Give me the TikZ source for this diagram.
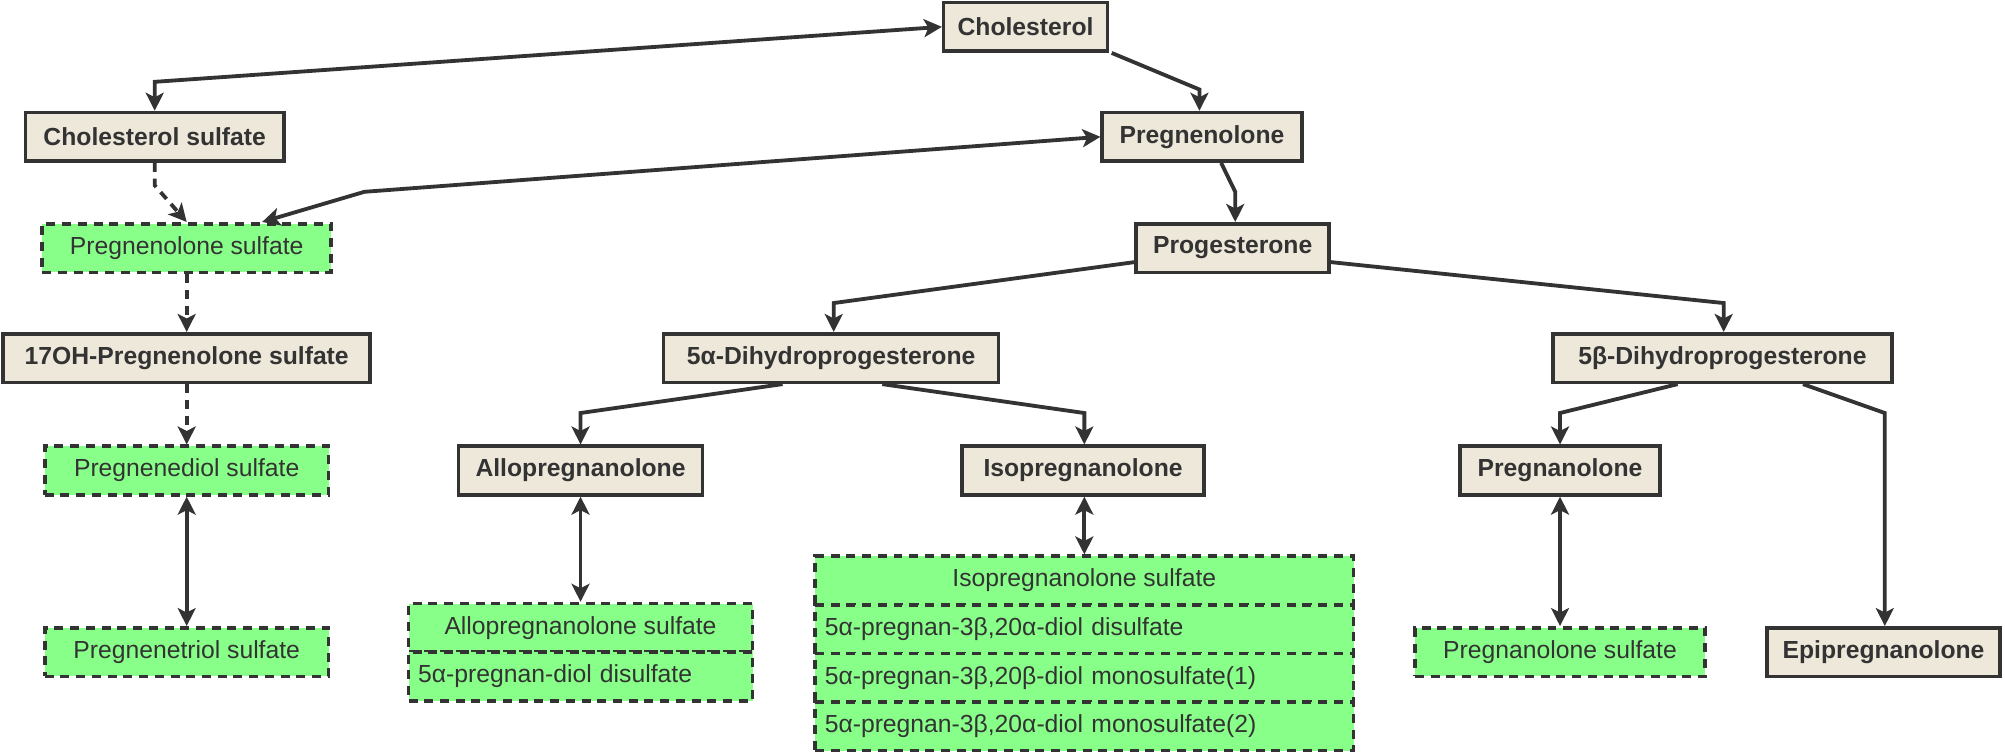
\documentclass[tikz,border=0pt]{standalone}
\usepackage{fontspec}
\setmainfont{Liberation Sans}
\usetikzlibrary{arrows.meta}
\definecolor{ink}{HTML}{333333}
\definecolor{beige}{HTML}{EDE8DA}
\definecolor{sulf}{HTML}{88FF88}
\tikzset{
  base/.style={draw=ink, text=ink, line width=1.6pt, minimum height=0.76cm, inner sep=2pt, font=\fontsize{11}{13}\selectfont},
  steroid/.style={base, fill=beige, font=\fontsize{11}{13}\selectfont\bfseries, minimum width=#1*0.02cm},
  sulfate/.style={base, fill=sulf, dashed, dash pattern=on 4pt off 3pt, minimum width=#1*0.02cm},
  row/.style={sulfate=#1, text width=#1*0.02cm-0.3cm, align=left},
  link/.style={draw=ink, line width=1.7pt, -{Stealth[length=8pt,width=8pt,inset=2pt]}},
  both/.style={link, {Stealth[length=8pt,width=8pt,inset=2pt]}-{Stealth[length=8pt,width=8pt,inset=2pt]}},
  soft/.style={link, dash pattern=on 4pt off 3pt}
}
\begin{document}
\begin{tikzpicture}[x=0.02cm, y=-0.02cm]
  \useasboundingbox (0,0) rectangle (1568,588);
  % steroids
  \node[steroid=128] (chol) at (802,21) {Cholesterol};
  \node[steroid=202] (cholS) at (121,107) {Cholesterol sulfate};
  \node[steroid=156] (preg) at (940,107) {Pregnenolone};
  \node[steroid=151] (prog) at (964,194) {Progesterone};
  \node[steroid=287] (ohpS) at (146,280) {17OH-Pregnenolone sulfate};
  \node[steroid=262] (adhp) at (650,280) {5α-Dihydroprogesterone};
  \node[steroid=265] (bdhp) at (1347,280) {5β-Dihydroprogesterone};
  \node[steroid=191] (allo) at (454,368) {Allopregnanolone};
  \node[steroid=189] (iso) at (847,368) {Isopregnanolone};
  \node[steroid=156] (pregna) at (1220,368) {Pregnanolone};
  \node[steroid=182] (epi) at (1473,510) {Epipregnanolone};
  % sulfates
  \node[sulfate=226] (pregS) at (146,194) {Pregnenolone sulfate};
  \node[sulfate=222] (diolS) at (146,368) {Pregnenediol sulfate};
  \node[sulfate=222] (triolS) at (146,510) {Pregnenetriol sulfate};
  \node[sulfate=227] (pregnaS) at (1220,510) {Pregnanolone sulfate};
  \node[sulfate=269] (alloS) at (454,491) {Allopregnanolone sulfate};
  \node[row=269] (alloD) at (454,529) {5α-pregnan-diol disulfate};
  \node[sulfate=421] (isoS) at (848,454) {Isopregnanolone sulfate};
  \node[row=421] (isoD) at (848,492) {5α-pregnan-3β,20α-diol disulfate};
  \node[row=421] (isoM1) at (848,530) {5α-pregnan-3β,20β-diol monosulfate(1)};
  \node[row=421] (isoM2) at (848,568) {5α-pregnan-3β,20α-diol monosulfate(2)};
  % connectors
  \draw[both] (chol.west) -- (121,64) -- (cholS.north);
  \draw[link] (chol.south east) ++(2,0) -- (938,70) -- (preg.north -| 938,0);
  \draw[both] (preg.west) -- (285,150) -- (pregS.north -| 205,0);
  \draw[soft] (cholS.south) -- (121,145) -- (pregS.north);
  \draw[link] (preg.south -| 955,0) -- (966,150) -- (prog.north -| 966,0);
  \draw[link] (prog.west |- 0,205) -- (652,237) -- (adhp.north -| 652,0);
  \draw[link] (prog.east |- 0,205) -- (1348,237) -- (bdhp.north -| 1348,0);
  \draw[soft] (pregS.south) -- (ohpS.north);
  \draw[soft] (ohpS.south) -- (diolS.north);
  \draw[both] (diolS.south) -- (triolS.north);
  \draw[link] (adhp.south -| 612,0) -- (454,323) -- (allo.north);
  \draw[link] (adhp.south -| 690,0) -- (848,323) -- (iso.north -| 848,0);
  \draw[both] (allo.south) -- (alloS.north);
  \draw[both] (iso.south -| 848,0) -- (isoS.north);
  \draw[link] (bdhp.south -| 1312,0) -- (1220,323) -- (pregna.north);
  \draw[link] (bdhp.south -| 1410,0) -- (1474,323) -- (epi.north -| 1474,0);
  \draw[both] (pregna.south) -- (pregnaS.north);
\end{tikzpicture}
\end{document}
